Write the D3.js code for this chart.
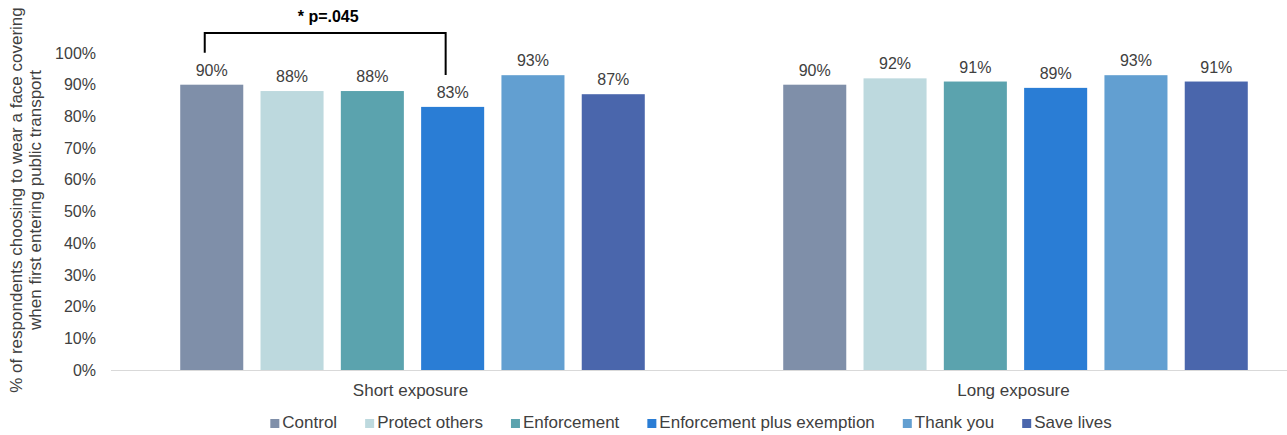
<!DOCTYPE html>
<html>
<head>
<meta charset="utf-8">
<script src="https://cdn.jsdelivr.net/npm/d3@7"></script>
<style>
  body { margin: 0; background: #fff; }
  text { font-family: "Liberation Sans", Arial, sans-serif; }
</style>
</head>
<body>
<div id="chart"></div>
<script>
// data
var groups = ["Short exposure", "Long exposure"];
var series = ["Control", "Protect others", "Enforcement", "Enforcement plus exemption", "Thank you", "Save lives"];
var colors = ["#7f8fa9", "#bdd9de", "#5ba3ae", "#2a7dd5", "#629fd1", "#4a66ac"];
var shortValues = [0.90, 0.88, 0.88, 0.83, 0.93, 0.87];
var longValues = [0.90, 0.92, 0.91, 0.89, 0.93, 0.91];
var yTicks = [0, 0.1, 0.2, 0.3, 0.4, 0.5, 0.6, 0.7, 0.8, 0.9, 1.0];
var sigLabel = "* p=.045";
var sigPair = ["Control", "Enforcement plus exemption"];

var width = 1287, height = 435;
var textColor = "#404040";

var svg = d3.select("#chart").append("svg")
  .attr("width", width)
  .attr("height", height);

// scales
var x0 = d3.scaleBand().domain(groups).range([111, 1317]);
var x1 = d3.scaleBand().domain(series).range([0, x0.bandwidth()])
  .paddingInner(0.215).paddingOuter(0.862);
var y = d3.scaleLinear().domain([0, 1]).range([370, 53]);
var color = d3.scaleOrdinal().domain(series).range(colors);

var data = groups.map(function (g, gi) {
  var vals = gi === 0 ? shortValues : longValues;
  return { group: g, values: series.map(function (s, i) { return { key: s, value: vals[i] }; }) };
});

// y axis (labels only)
var yAxis = svg.append("g")
  .attr("transform", "translate(" + 111 + ",0)")
  .call(d3.axisLeft(y).tickValues(yTicks).tickFormat(d3.format(".0%")).tickSize(0).tickPadding(15));
yAxis.select(".domain").remove();
yAxis.selectAll("text")
  .style("font-size", "16px")
  .style("font-family", "'Liberation Sans', Arial, sans-serif")
  .attr("fill", textColor);

// baseline
svg.append("line")
  .attr("x1", x0.range()[0]).attr("x2", x0.range()[1])
  .attr("y1", y(0) + 0.5).attr("y2", y(0) + 0.5)
  .attr("stroke", "#d9d9d9").attr("stroke-width", 1);

// bars
var grp = svg.selectAll(".grp")
  .data(data)
  .enter()
  .append("g")
  .attr("class", "grp")
  .attr("transform", function (d) { return "translate(" + x0(d.group) + ",0)"; });

grp.selectAll("rect")
  .data(function (d) { return d.values; })
  .enter()
  .append("rect")
  .attr("x", function (d) { return x1(d.key); })
  .attr("y", function (d) { return y(d.value); })
  .attr("width", x1.bandwidth())
  .attr("height", function (d) { return y(0) - y(d.value); })
  .attr("fill", function (d) { return color(d.key); });

grp.selectAll(".lbl")
  .data(function (d) { return d.values; })
  .enter()
  .append("text")
  .attr("class", "lbl")
  .attr("x", function (d) { return x1(d.key) + x1.bandwidth() / 2; })
  .attr("y", function (d) { return y(d.value) - 9; })
  .attr("text-anchor", "middle")
  .style("font-size", "16px")
  .attr("fill", textColor)
  .text(function (d) { return d3.format(".0%")(d.value); });

// category labels
svg.selectAll(".cat")
  .data(groups)
  .enter()
  .append("text")
  .attr("class", "cat")
  .attr("x", function (d) { return x0(d) + x0.bandwidth() / 2 - 2; })
  .attr("y", 396)
  .attr("text-anchor", "middle")
  .style("font-size", "17px")
  .attr("fill", textColor)
  .text(function (d) { return d; });

// y axis title
var title = svg.append("text")
  .attr("transform", "translate(22,200) rotate(-90)")
  .attr("text-anchor", "middle")
  .style("font-size", "17px")
  .attr("fill", textColor);
title.append("tspan").attr("x", 0).attr("dy", 0).text("% of respondents choosing to wear a face covering");
title.append("tspan").attr("x", 0).attr("dy", 19).text("when first entering public transport");

// significance bracket
var v0 = shortValues[series.indexOf(sigPair[0])];
var v1 = shortValues[series.indexOf(sigPair[1])];
var bx0 = x0(groups[0]) + x1(sigPair[0]) + x1.bandwidth() / 2 - 7;
var bx1 = x0(groups[0]) + x1(sigPair[1]) + x1.bandwidth() / 2 - 7;
var bracketTop = y(1) - 20;
svg.append("path")
  .attr("d", "M" + bx0 + "," + (y(v0) - 32) + "V" + bracketTop + "H" + bx1 + "V" + (y(v1) - 32))
  .attr("fill", "none")
  .attr("stroke", "#000")
  .attr("stroke-width", 2);
svg.append("text")
  .attr("x", (bx0 + bx1) / 2 + 3)
  .attr("y", 22)
  .attr("text-anchor", "middle")
  .style("font-size", "16px")
  .style("font-weight", "bold")
  .attr("fill", "#000")
  .text(sigLabel);

// legend
var legend = svg.append("g");
var items = legend.selectAll(".leg")
  .data(series)
  .enter()
  .append("g")
  .attr("class", "leg");
items.append("rect")
  .attr("width", 9).attr("height", 9)
  .attr("y", 419)
  .attr("fill", function (d) { return color(d); });
items.append("text")
  .attr("x", 12)
  .attr("y", 428)
  .style("font-size", "17px")
  .attr("fill", textColor)
  .text(function (d) { return d; });

var xpos = 0;
items.each(function () {
  var w = d3.select(this).select("text").node().getComputedTextLength();
  d3.select(this).attr("data-x", xpos);
  xpos += 12 + w + 28;
});
var total = xpos - 28;
var start = 691 - total / 2;
items.attr("transform", function () {
  return "translate(" + (start + (+d3.select(this).attr("data-x"))) + ",0)";
});
</script>
</body>
</html>
